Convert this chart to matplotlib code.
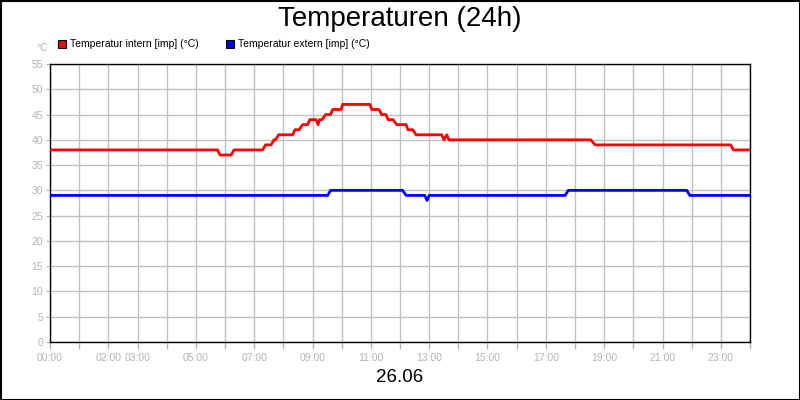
import matplotlib
matplotlib.use("Agg")
import matplotlib.pyplot as plt
from matplotlib.patches import Rectangle

plt.rcParams['font.family'] = ['Liberation Sans', 'DejaVu Sans']

# Data (time in hours, temperature in °C)
intern_t = [0, 5.74, 5.83, 6.21, 6.31, 7.29, 7.39, 7.58, 7.68, 7.73, 7.84, 8.32, 8.40, 8.54,
            8.66, 8.83, 8.91, 9.12, 9.19, 9.24, 9.33, 9.45, 9.62, 9.69, 9.98, 10.03, 10.97,
            11.03, 11.28, 11.37, 11.52, 11.59, 11.76, 11.89, 12.21, 12.27, 12.44, 12.55,
            13.43, 13.51, 13.60, 13.68, 18.54, 18.69, 23.34, 23.43, 24.0]
intern_v = [38, 38, 37, 37, 38, 38, 39, 39, 40, 40, 41, 41, 42, 42,
            43, 43, 44, 44, 43, 44, 44, 45, 45, 46, 46, 47, 47,
            46, 46, 45, 45, 44, 44, 43, 43, 42, 42, 41,
            41, 40, 41, 40, 40, 39, 39, 38, 38]

extern_t = [0, 9.52, 9.62, 12.09, 12.21, 12.85, 12.93, 13.0, 17.66, 17.77, 21.83, 21.94, 24.0]
extern_v = [29, 29, 30, 30, 29, 29, 28, 29, 29, 30, 30, 29, 29]

tick_hours = [0, 2, 3, 5, 7, 9, 11, 13, 15, 17, 19, 21, 23]
tick_labels = ["00:00", "02:00", "03:00", "05:00", "07:00", "09:00", "11:00", "13:00",
               "15:00", "17:00", "19:00", "21:00", "23:00"]
y_ticks = [0, 5, 10, 15, 20, 25, 30, 35, 40, 45, 50, 55]

series_names = ["Temperatur intern [imp] (°C)", "Temperatur extern [imp] (°C)"]
series_colors = ["#ff0000", "#0000ff"]

fig = plt.figure(figsize=(8, 4), dpi=100)
ax = fig.add_axes([50/800, 58/400, 700/800, 278/400])

ax.plot(intern_t, intern_v, color=series_colors[0], lw=2.0, solid_joinstyle='round', zorder=3)
ax.plot(extern_t, extern_v, color=series_colors[1], lw=2.0, solid_joinstyle='round', zorder=3)

ax.set_xlim(0, 24)
ax.set_ylim(0, 55)
hours = list(range(0, 25))
labels = [tick_labels[tick_hours.index(h)] if h in tick_hours else "" for h in hours]
ax.set_xticks(hours)
ax.set_xticklabels(labels)
ax.tick_params(axis='x', length=5, color='#b4b4b4', width=1, pad=3,
               labelsize=7.5, labelcolor='#b4b4b4')
ax.set_yticks(y_ticks)
ax.tick_params(axis='y', length=3, color='#b4b4b4', pad=2, labelsize=7.5, labelcolor='#b4b4b4')

ax.grid(True, which='major', color='#c0c0c0', lw=1)
ax.set_axisbelow(True)
for s in ax.spines.values():
    s.set_color('black')
    s.set_linewidth(1)

fig.text(0.5, 1 - 19/400, "Temperaturen (24h)", ha='center', va='center', fontsize=20)
fig.text(0.5, 1 - 378/400, "26.06", ha='center', va='center', fontsize=13.5)
fig.text(42/800, 1 - 48/400, "°C", ha='center', va='center', fontsize=7.5, color='#b4b4b4')

# legend
leg_x = [58, 226]
for i, name in enumerate(series_names):
    fig.patches.append(Rectangle((leg_x[i]/800, 1 - 48/400), 8/800, 8/400,
                                 transform=fig.transFigure, facecolor=series_colors[i],
                                 edgecolor='black', lw=0.8))
    fig.text((leg_x[i] + 12)/800, 1 - 44/400, name, ha='left', va='center', fontsize=7.5)

# outer border
fig.patches.append(Rectangle((0.5/800, 0.5/400), 799/800, 399/400, transform=fig.transFigure,
                             fill=False, edgecolor='black', lw=1.5))

fig.savefig("out.png", dpi=100)
